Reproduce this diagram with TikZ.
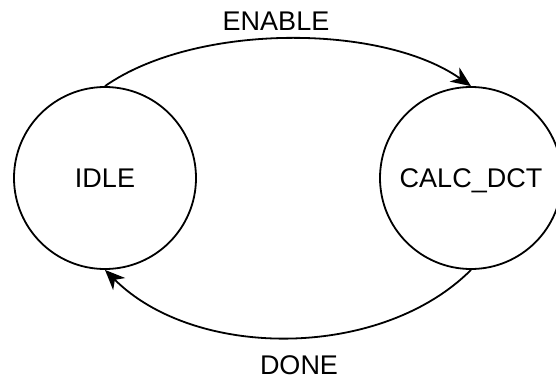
\documentclass[tikz,border=0pt]{standalone}
\usepackage{fontspec}
\setmainfont{Liberation Sans}
\usetikzlibrary{arrows.meta}
\tikzset{state/.style={circle, draw=black, line width=1.8pt, minimum size=182pt, inner sep=0pt, text depth=0pt, font=\fontsize{27}{30}\selectfont},
trans/.style={-{Stealth[length=20pt,width=17pt,inset=6pt]}, line width=1.8pt},
lbl/.style={inner sep=0pt, font=\fontsize{27}{30}\selectfont}}

\begin{document}
\begin{tikzpicture}[x=1pt,y=-1pt]
\useasboundingbox (0,0) rectangle (556,380);
% states
\node[state] (idle) at (105,178) {IDLE};
\node[state] (calc) at (471,178) {CALC\_DCT};

% transitions
\draw[trans] (idle.north) .. controls +(90,-63) and +(-90,-63) .. (calc.north);
\draw[trans] (calc.south) .. controls +(-90,90) and +(90,90) .. (idle.south);

%labels
\node[lbl] (enable) at (276,21) {ENABLE};
\node[lbl] (done) at (299,365) {DONE};
\end{tikzpicture}
\end{document}
